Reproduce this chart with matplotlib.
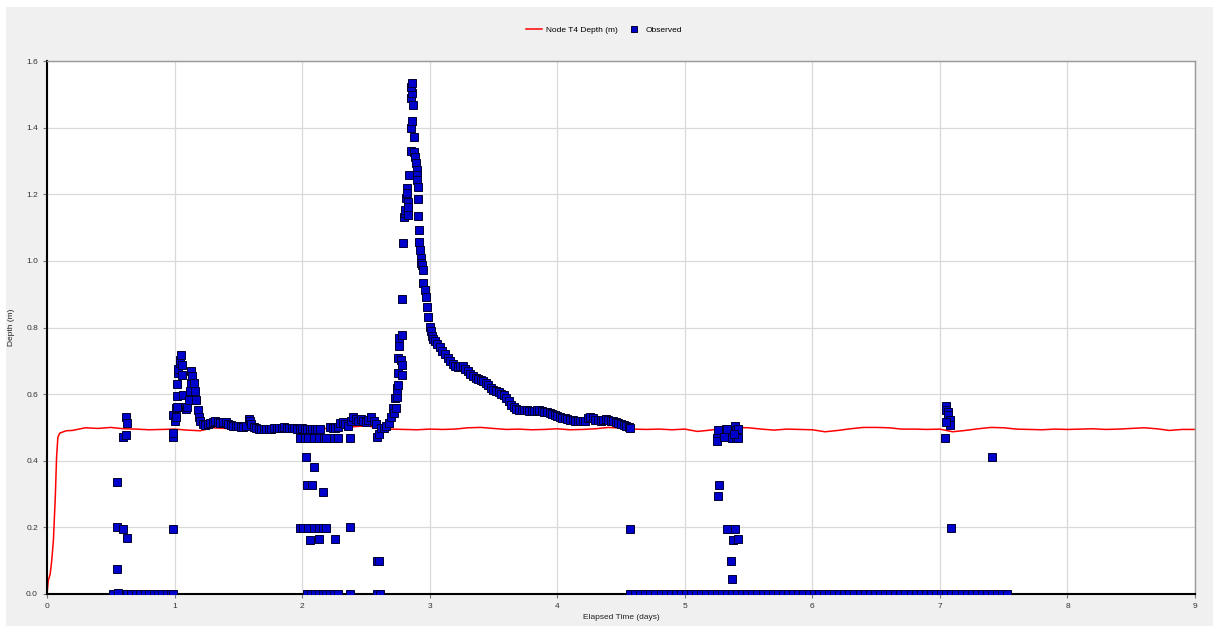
import matplotlib
matplotlib.use("Agg")
import matplotlib.pyplot as plt
from matplotlib.patches import Rectangle

plt.rcParams['font.family'] = ['Liberation Sans', 'DejaVu Sans']

# simulated depth at node T4 (days, m)
model_t = [0.0, 0.01, 0.025, 0.037, 0.05, 0.065, 0.075, 0.085, 0.1, 0.15, 0.2, 0.3,
           0.4, 0.5, 0.6, 0.7, 0.8, 0.9, 1.0, 1.1, 1.2, 1.3, 1.4, 1.5, 1.6, 1.7,
           1.8, 1.9, 2.0, 2.1, 2.2, 2.3, 2.4, 2.5, 2.6, 2.7, 2.8, 2.9, 3.0, 3.1,
           3.2, 3.3, 3.4, 3.5, 3.6, 3.7, 3.8, 3.9, 4.0, 4.1, 4.2, 4.3, 4.4, 4.5,
           4.6, 4.7, 4.8, 4.9, 5.0, 5.1, 5.2, 5.3, 5.4, 5.5, 5.6, 5.7, 5.8, 5.9,
           6.0, 6.1, 6.2, 6.3, 6.4, 6.5, 6.6, 6.7, 6.8, 6.9, 7.0, 7.1, 7.2, 7.3,
           7.4, 7.5, 7.6, 7.7, 7.8, 7.9, 8.0, 8.1, 8.2, 8.3, 8.4, 8.5, 8.6, 8.7,
           8.8, 8.9, 9.0]
model_d = [0.0, 0.04, 0.06, 0.10, 0.16, 0.29, 0.41, 0.47, 0.483, 0.49, 0.491, 0.499,
           0.497, 0.500, 0.496, 0.495, 0.493, 0.494, 0.495, 0.492, 0.490, 0.499, 0.497, 0.496, 0.498, 0.495,
           0.496, 0.497, 0.496, 0.495, 0.497, 0.500, 0.502, 0.505, 0.499, 0.495, 0.494, 0.493, 0.495, 0.494,
           0.495, 0.499, 0.500, 0.497, 0.494, 0.495, 0.493, 0.494, 0.496, 0.493, 0.494, 0.496, 0.500, 0.498,
           0.495, 0.494, 0.495, 0.493, 0.495, 0.488, 0.492, 0.497, 0.500, 0.499, 0.495, 0.492, 0.495, 0.494,
           0.493, 0.487, 0.491, 0.496, 0.500, 0.500, 0.499, 0.495, 0.495, 0.494, 0.495, 0.487, 0.491, 0.496,
           0.500, 0.499, 0.495, 0.494, 0.493, 0.495, 0.494, 0.495, 0.496, 0.494, 0.495, 0.497, 0.499, 0.496,
           0.491, 0.494, 0.494]

# observed readings at zero depth (days)
zero_t = [0.52, 0.555, 0.59, 0.625, 0.66, 0.695, 0.73, 0.765, 0.80, 0.835, 0.87, 0.905,
          0.94, 0.975, 0.99, 2.04, 2.07, 2.10, 2.13, 2.16, 2.19, 2.22, 2.25, 2.28,
          2.375, 2.585, 2.61,
          4.57, 4.61, 4.65, 4.69, 4.73, 4.77, 4.81, 4.85, 4.89, 4.93, 4.97, 5.01,
          5.05, 5.09, 5.13, 5.17, 5.21, 5.25, 5.29, 5.33, 5.37, 5.41, 5.45, 5.49,
          5.53, 5.57, 5.61, 5.65, 5.69, 5.73, 5.77, 5.81, 5.85, 5.89, 5.93, 5.97,
          6.01, 6.05, 6.09, 6.13, 6.17, 6.21, 6.25, 6.29, 6.33, 6.37, 6.41, 6.45,
          6.49, 6.53, 6.57, 6.61, 6.65, 6.69, 6.73, 6.77, 6.81, 6.85, 6.89, 6.93,
          6.97, 7.01, 7.05, 7.09, 7.13, 7.17, 7.21, 7.25, 7.29, 7.33, 7.37, 7.41,
          7.45, 7.49, 7.53]

# observed non-zero readings (days, m)
obs_t = [0.546, 0.551, 0.546, 0.598, 0.63, 0.598, 0.62, 0.62, 0.625, 0.56,
         0.985, 0.985, 0.99, 0.99, 1.0, 1.01, 1.01, 1.02, 1.02, 1.02, 1.03, 1.03,
         1.04, 1.045, 1.05, 1.06, 1.06, 1.07, 1.08, 1.09, 1.10, 1.11, 1.12, 1.13,
         1.13, 1.14, 1.15, 1.16, 1.17, 1.18, 1.19, 1.20, 1.22, 1.24,
         1.26, 1.28, 1.30, 1.32, 1.34, 1.36, 1.38, 1.40, 1.42, 1.44, 1.46, 1.48,
         1.50, 1.52, 1.54, 1.56, 1.58, 1.59, 1.60, 1.62, 1.64, 1.66, 1.68, 1.70,
         1.72, 1.74, 1.76, 1.78, 1.80, 1.82, 1.84, 1.86, 1.88, 1.90, 1.92, 1.94,
         1.96, 1.98, 2.00, 2.02, 2.04, 2.06, 2.08, 2.10, 2.12, 2.14,
         1.984, 2.02, 2.05, 2.09, 2.13, 2.17, 2.19, 2.25, 2.28, 2.375,
         2.03, 2.09, 2.035, 2.075, 2.16,
         1.98, 2.01, 2.05, 2.09, 2.13, 2.16, 2.19, 2.375,
         2.06, 2.13, 2.26, 2.585, 2.60,
         2.22, 2.24, 2.26, 2.28, 2.30, 2.32, 2.34, 2.36, 2.38, 2.40, 2.42, 2.44,
         2.46, 2.48, 2.50, 2.52, 2.54, 2.56, 2.58, 2.59, 2.60, 2.62, 2.64, 2.66,
         2.68, 2.70, 2.715, 2.72, 2.73, 2.735, 2.74, 2.742, 2.745, 2.75, 2.75,
         2.755, 2.76, 2.76, 2.76, 2.78, 2.775, 2.78, 2.78, 2.785, 2.79,
         2.80, 2.805, 2.81, 2.815, 2.82, 2.82, 2.83, 2.83, 2.83, 2.84, 2.85, 2.88,
         2.85, 2.857, 2.865, 2.866, 2.86, 2.857, 2.86, 2.88, 2.885, 2.89, 2.90,
         2.90, 2.90, 2.91, 2.91, 2.91, 2.915, 2.92, 2.925, 2.93, 2.935, 2.94,
         2.95, 2.95, 2.96, 2.97, 2.98, 2.99, 3.00, 3.01, 3.02, 3.03,
         3.04, 3.06, 3.08, 3.10, 3.12, 3.14, 3.16, 3.18, 3.20, 3.22, 3.24, 3.26,
         3.28, 3.30, 3.32, 3.34, 3.36, 3.38, 3.40, 3.42, 3.44, 3.46, 3.48, 3.50,
         3.52, 3.54, 3.56, 3.58, 3.60, 3.62, 3.64, 3.66, 3.68, 3.70, 3.72, 3.74,
         3.76, 3.78, 3.80, 3.82, 3.84, 3.86, 3.88, 3.90, 3.92, 3.94, 3.96, 3.98,
         4.00, 4.02, 4.04, 4.06, 4.08, 4.10, 4.12, 4.14, 4.16, 4.18, 4.20, 4.22,
         4.24, 4.26, 4.28, 4.30, 4.32, 4.34, 4.36, 4.38, 4.40, 4.42, 4.44, 4.46,
         4.48, 4.50, 4.52, 4.54, 4.56, 4.57, 4.57,
         5.25, 5.25, 5.263, 5.27, 5.26, 5.32, 5.33, 5.31, 5.33, 5.39, 5.38, 5.42,
         5.36, 5.37, 5.37, 5.40, 5.42, 5.39, 5.40, 5.42, 5.385,
         7.048, 7.048, 7.066, 7.066, 7.08, 7.08, 7.048, 7.04, 7.085, 7.41]
obs_d = [0.337, 0.200, 0.075, 0.195, 0.168, 0.472, 0.477, 0.532, 0.513, 0.004,
         0.195, 0.470, 0.483, 0.537, 0.520, 0.530, 0.559, 0.560, 0.595, 0.630, 0.663, 0.675,
         0.693, 0.703, 0.718, 0.688, 0.658, 0.598, 0.562, 0.555, 0.562, 0.583, 0.608, 0.633,
         0.668, 0.653, 0.633, 0.608, 0.583, 0.553, 0.531, 0.518, 0.511, 0.508,
         0.510, 0.512, 0.515, 0.520, 0.516, 0.512, 0.515, 0.517, 0.510, 0.507, 0.505, 0.503,
         0.503, 0.500, 0.502, 0.505, 0.525, 0.520, 0.510, 0.500, 0.498, 0.496, 0.495, 0.495,
         0.496, 0.495, 0.495, 0.497, 0.498, 0.497, 0.499, 0.500, 0.498, 0.497, 0.498, 0.497,
         0.496, 0.496, 0.497, 0.496, 0.495, 0.495, 0.496, 0.495, 0.495, 0.496,
         0.469, 0.469, 0.469, 0.469, 0.469, 0.469, 0.469, 0.469, 0.469, 0.469,
         0.410, 0.381, 0.327, 0.327, 0.305,
         0.197, 0.197, 0.197, 0.197, 0.197, 0.197, 0.197, 0.200,
         0.162, 0.164, 0.164, 0.099, 0.099,
         0.500, 0.497, 0.497, 0.502, 0.513, 0.515, 0.510, 0.505, 0.520, 0.532, 0.525, 0.520,
         0.525, 0.518, 0.515, 0.522, 0.530, 0.520, 0.510, 0.472, 0.480, 0.497, 0.497, 0.505,
         0.513, 0.530, 0.557, 0.542, 0.588, 0.557, 0.592, 0.618, 0.613, 0.628, 0.663,
         0.708, 0.758, 0.768, 0.743, 0.778, 0.703, 0.688, 0.658, 0.885, 1.055,
         1.133, 1.143, 1.153, 1.188, 1.218, 1.203, 1.178, 1.163, 1.138, 1.258, 1.331, 1.328,
         1.398, 1.490, 1.420, 1.468, 1.504, 1.523, 1.533, 1.373, 1.313, 1.293, 1.273,
         1.258, 1.243, 1.221, 1.185, 1.136, 1.093, 1.058, 1.033, 1.010, 0.993, 0.988,
         0.973, 0.933, 0.913, 0.893, 0.863, 0.833, 0.803, 0.788, 0.773, 0.766,
         0.760, 0.750, 0.740, 0.730, 0.720, 0.708, 0.698, 0.690, 0.685, 0.682, 0.683, 0.683,
         0.675, 0.668, 0.660, 0.653, 0.648, 0.645, 0.643, 0.638, 0.633, 0.627, 0.618, 0.613,
         0.608, 0.605, 0.600, 0.598, 0.588, 0.578, 0.568, 0.560, 0.555, 0.553, 0.552, 0.551,
         0.551, 0.550, 0.549, 0.550, 0.551, 0.551, 0.549, 0.547, 0.545, 0.542, 0.540, 0.537,
         0.535, 0.532, 0.529, 0.527, 0.525, 0.523, 0.521, 0.519, 0.518, 0.518, 0.518, 0.519,
         0.528, 0.532, 0.527, 0.523, 0.523, 0.520, 0.522, 0.524, 0.522, 0.520, 0.518, 0.515,
         0.513, 0.510, 0.508, 0.505, 0.502, 0.497, 0.195,
         0.468, 0.460, 0.492, 0.327, 0.293, 0.495, 0.495, 0.470, 0.195, 0.195, 0.162, 0.164,
         0.099, 0.044, 0.468, 0.468, 0.468, 0.505, 0.492, 0.495, 0.480,
         0.563, 0.553, 0.546, 0.538, 0.523, 0.508, 0.516, 0.468, 0.197, 0.410]

fig = plt.figure(figsize=(12.13, 6.26), dpi=100)
fig.patch.set_facecolor('white')
fig.patches.append(Rectangle((6 / 1213, 0), 1, 1 - 7 / 626, transform=fig.transFigure,
                             facecolor='#f0f0f0', edgecolor='none', zorder=-10))

ax = fig.add_axes([47 / 1213, 1 - 594 / 626, (1195 - 47) / 1213, (594 - 61) / 626])
ax.set_facecolor('white')

ax.plot(model_t, model_d, color='#ff0000', lw=1.1, label='Node T4 Depth (m)', zorder=2)
ax.plot(zero_t + obs_t, [0.0] * len(zero_t) + obs_d, ls='none', marker='s', ms=5.4,
        mfc='#0000cc', mec='#000033', mew=0.7, label='Observed', zorder=3)

ax.set_xlim(0, 9)
ax.set_ylim(0, 1.6)
ax.set_xticks(range(10))
ax.set_yticks([0.0, 0.2, 0.4, 0.6, 0.8, 1.0, 1.2, 1.4, 1.6])
ax.set_yticklabels(['0.0', '0.2', '0.4', '0.6', '0.8', '1.0', '1.2', '1.4', '1.6'])
ax.grid(True, color='#d9d9d9', lw=0.9)
ax.set_axisbelow(True)
ax.tick_params(labelsize=6, labelcolor='#333333', color='#777777', length=3, width=0.8)

for side in ('left', 'bottom'):
    ax.spines[side].set_color('black')
    ax.spines[side].set_linewidth(1.5)
for side in ('top', 'right'):
    ax.spines[side].set_color('#999999')
    ax.spines[side].set_linewidth(1.0)

ax.set_xlabel('Elapsed Time (days)', fontsize=6, color='#222222', labelpad=3)
ax.set_ylabel('Depth (m)', fontsize=6, color='#222222', labelpad=8)

fig.legend(loc='center', bbox_to_anchor=(0.498, 0.952), ncol=2, frameon=False,
           fontsize=6, handlelength=2.0, columnspacing=1.0, handletextpad=0.4,
           markerscale=0.9)

fig.savefig('out.png', dpi=100, facecolor=fig.get_facecolor())
